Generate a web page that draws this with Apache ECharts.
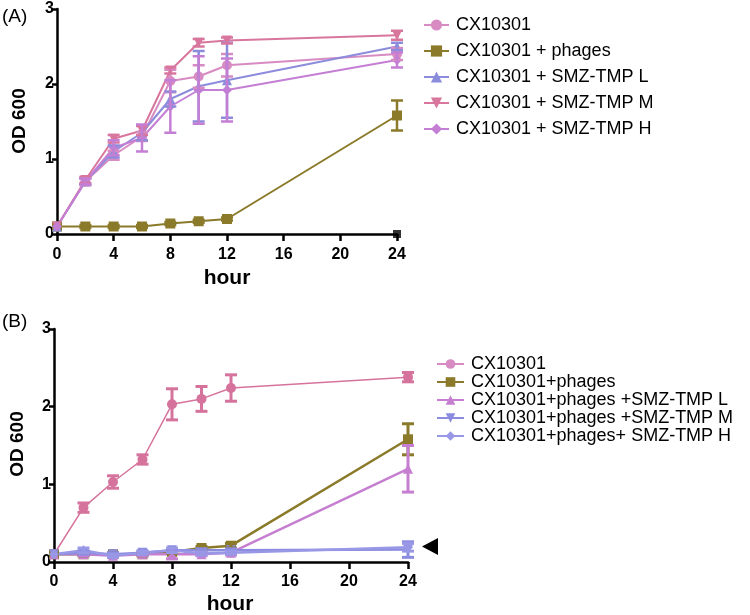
<!DOCTYPE html>
<html><head><meta charset="utf-8">
<script src="https://cdn.jsdelivr.net/npm/echarts@6/dist/echarts.min.js"></script>
<style>html,body{margin:0;padding:0;background:#fff}#c{width:750px;height:615px}</style>
</head><body><div id="c"></div>
<script>
// ---- data ----
const hours = [0, 2, 4, 6, 8, 10, 12, 24];
const xTicks = [0, 4, 8, 12, 16, 20, 24];
const yTicks = [0, 1, 2, 3];

const namesA = ['CX10301', 'CX10301 + phages', 'CX10301 + SMZ-TMP L', 'CX10301 + SMZ-TMP M', 'CX10301 + SMZ-TMP H'];
const a_cx   = [0.10, 0.70, 1.05, 1.30, 2.04, 2.10, 2.25, 2.40];
const a_ph   = [0.10, 0.10, 0.10, 0.10, 0.14, 0.17, 0.20, 1.58];
const a_L    = [0.10, 0.70, 1.10, 1.35, 1.80, 1.97, 2.05, 2.50];
const a_M    = [0.10, 0.72, 1.27, 1.38, 2.18, 2.55, 2.58, 2.65];
const a_H    = [0.10, 0.70, 1.15, 1.28, 1.70, 1.92, 1.92, 2.32];
const a_cx_e = [0.00, 0.05, 0.06, 0.06, 0.15, 0.15, 0.15, 0.08];
const a_ph_e = [0.00, 0.02, 0.02, 0.02, 0.02, 0.02, 0.02, 0.20];
const a_L_e  = [0.00, 0.04, 0.08, 0.10, 0.10, 0.47, 0.50, 0.05];
const a_M_e  = [0.00, 0.04, 0.05, 0.06, 0.04, 0.05, 0.04, 0.06];
const a_H_e  = [0.00, 0.04, 0.10, 0.18, 0.35, 0.45, 0.42, 0.10];

const namesB = ['CX10301', 'CX10301+phages', 'CX10301+phages +SMZ-TMP L', 'CX10301+phages +SMZ-TMP M', 'CX10301+phages+ SMZ-TMP H'];
const b_cx   = [0.10, 0.70, 1.03, 1.32, 2.03, 2.10, 2.24, 2.38];
const b_ph   = [0.10, 0.10, 0.10, 0.10, 0.13, 0.18, 0.21, 1.58];
const b_L    = [0.10, 0.10, 0.08, 0.10, 0.10, 0.10, 0.12, 1.20];
const b_M    = [0.10, 0.12, 0.10, 0.12, 0.15, 0.15, 0.15, 0.16];
const b_H    = [0.10, 0.15, 0.08, 0.12, 0.15, 0.11, 0.12, 0.19];
const b_cx_e = [0.00, 0.06, 0.08, 0.06, 0.20, 0.16, 0.17, 0.06];
const b_ph_e = [0.00, 0.02, 0.02, 0.02, 0.02, 0.02, 0.03, 0.20];
const b_L_e  = [0.00, 0.02, 0.02, 0.02, 0.06, 0.02, 0.03, 0.30];
const b_M_e  = [0.00, 0.02, 0.02, 0.02, 0.02, 0.02, 0.02, 0.10];
const b_H_e  = [0.00, 0.03, 0.02, 0.02, 0.03, 0.02, 0.02, 0.05];

// ---- styles ----
const FONT = 'Liberation Sans, Arial, sans-serif';
const colA = ['#d88bc2', '#8a7a2a', '#8c8cdc', '#d8769e', '#c47fd4'];
const colB = ['#d5739c', '#8a7a2a', '#c67fd0', '#8b8be0', '#9898e6'];
const symA = ['circle', 'rect', 'triangle', 'triangle', 'diamond'];
const rotA = [0, 0, 0, 180, 0];

const pts = v => hours.map((h, i) => [h, v[i]]);
const errPts = (v, e) => hours.map((h, i) => [h, v[i] - e[i], v[i] + e[i]]);

function lineSeries(name, vals, color, sym, rot, gi, lw, ss) {
  return {
    type: 'line', name, data: pts(vals), xAxisIndex: gi, yAxisIndex: gi,
    symbol: sym, symbolRotate: rot, symbolSize: ss, showSymbol: true,
    lineStyle: { color, width: lw }, itemStyle: { color },
    animation: false, z: 3
  };
}
function errSeries(vals, errs, color, gi, w) {
  return {
    type: 'custom', xAxisIndex: gi, yAxisIndex: gi, data: errPts(vals, errs),
    animation: false, silent: true, z: 4,
    renderItem: function (params, api) {
      const x = api.value(0), lo = api.value(1), hi = api.value(2);
      if (hi - lo < 0.001) return;
      const p1 = api.coord([x, lo]), p2 = api.coord([x, hi]);
      const cw = 6;
      const st = { stroke: color, lineWidth: w };
      return { type: 'group', children: [
        { type: 'line', shape: { x1: p1[0], y1: p1[1], x2: p2[0], y2: p2[1] }, style: st },
        { type: 'line', shape: { x1: p1[0] - cw, y1: p1[1], x2: p1[0] + cw, y2: p1[1] }, style: st },
        { type: 'line', shape: { x1: p2[0] - cw, y1: p2[1], x2: p2[0] + cw, y2: p2[1] }, style: st }
      ]};
    }
  };
}

const axisCommon = {
  axisLine: { show: true, lineStyle: { color: '#000', width: 2.5 } },
  axisTick: { show: true, lineStyle: { color: '#000', width: 2.5 } },
  splitLine: { show: false },
  axisLabel: { color: '#000', fontFamily: FONT, fontWeight: 'bold', fontSize: 16 }
};
function xAx(gi, margin) {
  return Object.assign({}, axisCommon, {
    type: 'value', gridIndex: gi, min: xTicks[0], max: xTicks[xTicks.length - 1], interval: 4,
    axisTick: { show: true, length: 7, lineStyle: { color: '#000', width: 2.5 } },
    axisLabel: Object.assign({}, axisCommon.axisLabel, { margin })
  });
}
function yAx(gi) {
  return Object.assign({}, axisCommon, {
    type: 'value', gridIndex: gi, min: yTicks[0], max: yTicks[yTicks.length - 1], interval: 1,
    axisTick: { show: true, length: 5, lineStyle: { color: '#000', width: 2.5 } },
    axisLabel: Object.assign({}, axisCommon.axisLabel, { margin: 3 })
  });
}

const valsA = [a_cx, a_ph, a_L, a_M, a_H];
const errsA = [a_cx_e, a_ph_e, a_L_e, a_M_e, a_H_e];
const valsB = [b_cx, b_ph, b_L, b_M, b_H];
const errsB = [b_cx_e, b_ph_e, b_L_e, b_M_e, b_H_e];

const series = [];
valsA.forEach((v, i) => series.push(errSeries(v, errsA[i], colA[i], 0, 2.5)));
valsA.forEach((v, i) => series.push(lineSeries(namesA[i], v, colA[i], symA[i], rotA[i], 0, 2, 10)));
valsB.forEach((v, i) => series.push(errSeries(v, errsB[i], colB[i], 1, 3)));
valsB.forEach((v, i) => series.push(lineSeries(namesB[i], v, colB[i], symA[i], rotA[i], 1, i === 0 ? 1.5 : 2.5, 10)));
// black square mark at (24, 0) in panel A
series.push({ type: 'scatter', xAxisIndex: 0, yAxisIndex: 0, data: [[24, 0]], symbol: 'rect', symbolSize: 8,
  itemStyle: { color: '#000' }, clip: false, silent: true, animation: false, z: 5 });

const chart = echarts.init(document.getElementById('c'), null, { renderer: 'canvas' });
chart.setOption({
  backgroundColor: '#fff',
  animation: false,
  grid: [
    { left: 57, top: 9, width: 340, height: 225 },
    { left: 54, top: 329, width: 354, height: 233 }
  ],
  xAxis: [xAx(0, 13), xAx(1, 12)],
  yAxis: [yAx(0), yAx(1)],
  legend: [
    { data: namesA, orient: 'vertical', left: 418, top: 11, itemWidth: 25, itemHeight: 14, itemGap: 8,
      textStyle: { fontFamily: FONT, fontSize: 18, color: '#000', lineHeight: 18, padding: [0, 0, 0, 2] } },
    { data: namesB, orient: 'vertical', left: 431, top: 350, itemWidth: 27, itemHeight: 12, itemGap: 0,
      textStyle: { fontFamily: FONT, fontSize: 18, color: '#000', lineHeight: 18, padding: [0, 0, 0, 2] } }
  ],
  graphic: [
    { type: 'text', left: 2, top: 7, style: { text: '(A)', fontFamily: FONT, fontSize: 19, fill: '#000' } },
    { type: 'text', left: 2, top: 312, style: { text: '(B)', fontFamily: FONT, fontSize: 19, fill: '#000' } },
    { type: 'text', x: 20, y: 121, rotation: Math.PI / 2, style: { text: 'OD 600', fontFamily: FONT, fontWeight: 'bold', fontSize: 19, fill: '#000', align: 'center', verticalAlign: 'middle' } },
    { type: 'text', x: 18, y: 444, rotation: Math.PI / 2, style: { text: 'OD 600', fontFamily: FONT, fontWeight: 'bold', fontSize: 19, fill: '#000', align: 'center', verticalAlign: 'middle' } },
    { type: 'text', x: 227, y: 278, style: { text: 'hour', fontFamily: FONT, fontWeight: 'bold', fontSize: 21, fill: '#000', align: 'center', verticalAlign: 'middle' } },
    { type: 'text', x: 230, y: 604, style: { text: 'hour', fontFamily: FONT, fontWeight: 'bold', fontSize: 21, fill: '#000', align: 'center', verticalAlign: 'middle' } },
    { type: 'polygon', shape: { points: [[438, 538], [438, 555], [422, 546.5]] }, style: { fill: '#000' } }
  ],
  series
});
</script></body></html>
